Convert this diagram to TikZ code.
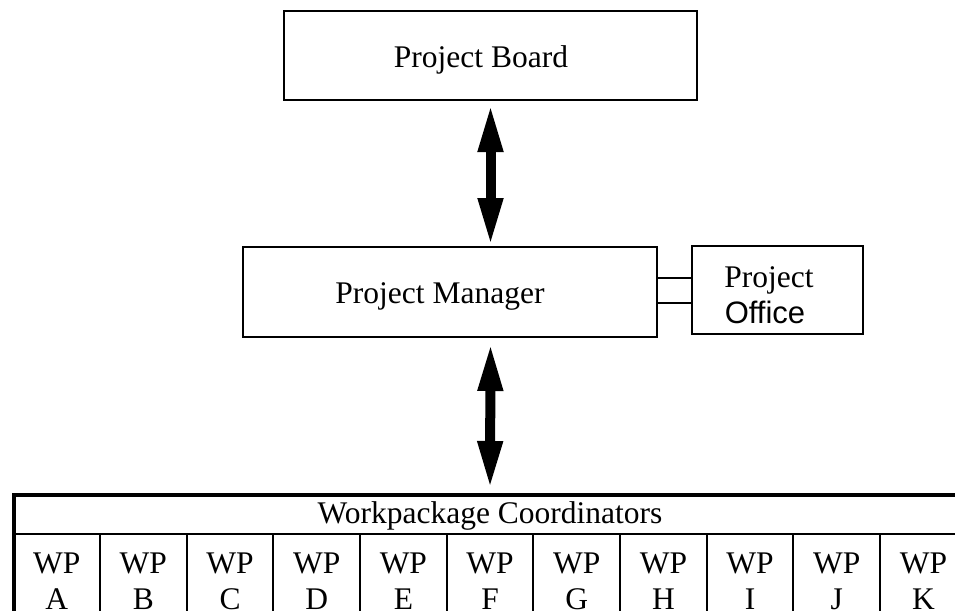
\documentclass[tikz,border=0pt]{standalone}
\usepackage{fontspec}
\setmainfont{Liberation Serif}
\newfontfamily\sansface{Liberation Sans}
\usetikzlibrary{arrows.meta}

\begin{document}
\begin{tikzpicture}[x=1pt,y=-1pt,
  txt/.style={inner sep=0pt, anchor=base, font=\fontsize{31.5}{36}\selectfont},
  box/.style={draw, line width=2pt, inner sep=0pt},
  link/.style={line width=2pt},
  bigarrow/.style={line width=10pt,
    {Triangle[width=23pt,length=48pt]}-{Triangle[width=23pt,length=48pt]}},
  rule/.style={line width=2pt},
  thickrule/.style={line width=4pt}]
\useasboundingbox (0,0) rectangle (955,610);
\clip (0,0) rectangle (955,610);

% boxes
\node[box, minimum width=413pt, minimum height=89pt] (pb) at (490.5,55.5) {};
\node[txt] (pbt) at (481,67) {Project Board};

\node[box, minimum width=414pt, minimum height=90pt] (pm) at (450,292) {};
\node[txt] (pmt) at (440,303) {Project Manager};

\node[box, minimum width=171pt, minimum height=88pt] (po) at (777.5,290) {};
\node[txt] (pot1) at (769,287) {Project};
\node[txt, font=\sansface\fontsize{31}{36}\selectfont] (pot2) at (765,323) {Office};

% double link between manager and office
\coordinate (l1) at (0,278);
\coordinate (l2) at (0,303);
\draw[link] (pm.east |- l1) -- (po.west |- l1);
\draw[link] (pm.east |- l2) -- (po.west |- l2);

% table of work packages
\coordinate (tabtop) at (490,495);
\draw[thickrule] (13.5,495) -- (970,495);
\draw[thickrule] (13.5,493) -- (13.5,630);
\draw[rule] (13.5,534) -- (970,534);
\node[txt] (wpc) at (490,523) {Workpackage Coordinators};
\foreach \k in {0,...,9} {
  \draw[rule] ({100+86.67*\k},534) -- ({100+86.67*\k},630);
}
\foreach \l [count=\k from 0] in {A,B,C,D,E,F,G,H,I,J,K} {
  \node[txt] (wp\l) at ({56.7+86.67*\k},573) {WP};
  \node[txt] (ltr\l) at ({56.7+86.67*\k},609) {\l};
}

% arrows
\draw[bigarrow] ([yshift=-3pt]pb.south) -- (pb.south |- pm.north);
\draw[bigarrow] ([yshift=-5pt]pb.south |- pm.south) -- ([yshift=6pt]tabtop);
\end{tikzpicture}
\end{document}
